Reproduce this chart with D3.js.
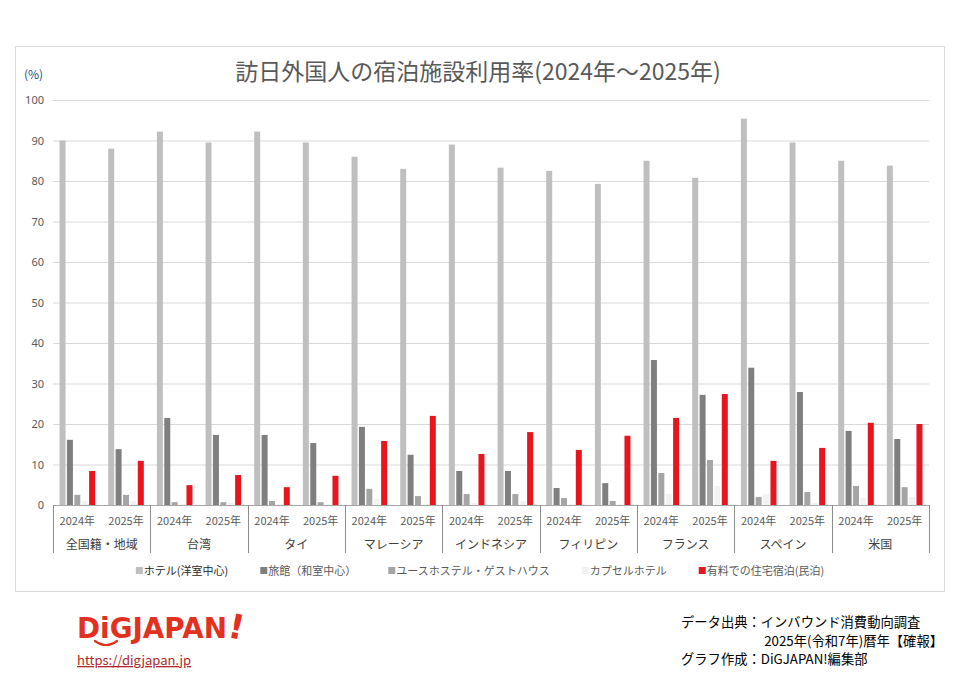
<!DOCTYPE html>
<html>
<head>
<meta charset="utf-8">
<title>訪日外国人の宿泊施設利用率</title>
<script src="https://d3js.org/d3.v7.js"></script>
<style>
    body { margin: 0; background: #fff; }
    svg text { font-family: "Noto Sans CJK JP", "Noto Sans", sans-serif; }
</style>
</head>
<body>
<svg id="chart" width="960" height="700"></svg>
<script>
    // Data
    var countries = ["全国籍・地域", "台湾", "タイ", "マレーシア", "インドネシア", "フィリピン", "フランス", "スペイン", "米国"];
    var years = ["2024年", "2025年"];
    var seriesNames = ["ホテル(洋室中心)", "旅館（和室中心）", "ユースホステル・ゲストハウス", "カプセルホテル", "有料での住宅宿泊(民泊)"];
    var seriesColors = ["#bfbfbf", "#7f7f7f", "#a5a5a5", "#f2f2f2", "#e8141e"];

    // values in order: country x year (2024, 2025)
    var hotel   = [90.0, 88.0, 92.2, 89.5, 92.2, 89.5, 86.0, 83.0, 89.0, 83.3, 82.5, 79.3, 85.0, 80.8, 95.4, 89.5, 85.0, 83.8];
    var ryokan  = [16.1, 13.8, 21.5, 17.3, 17.3, 15.3, 19.3, 12.4, 8.4, 8.4, 4.2, 5.4, 35.8, 27.2, 33.9, 27.9, 18.3, 16.3];
    var youth   = [2.5, 2.5, 0.7, 0.7, 1.0, 0.7, 4.0, 2.2, 2.7, 2.7, 1.7, 1.0, 7.9, 11.1, 2.0, 3.2, 4.7, 4.4];
    var capsule = [1.0, 1.0, 0.2, 0.5, 0.2, 0.2, 1.5, 0.2, 0.5, 1.0, 0.2, 0.2, 2.7, 4.7, 2.7, 0.5, 1.7, 2.0];
    var minpaku = [8.4, 10.9, 4.9, 7.4, 4.4, 7.2, 15.8, 22.0, 12.6, 18.0, 13.6, 17.1, 21.5, 27.4, 10.9, 14.1, 20.3, 20.0];

    var yTicks = [0, 10, 20, 30, 40, 50, 60, 70, 80, 90, 100];

    var allSeries = [hotel, ryokan, youth, capsule, minpaku];

    // flatten into records
    var records = [];
    countries.forEach(function (c, ci) {
        years.forEach(function (yr, yi) {
            seriesNames.forEach(function (s, si) {
                records.push({ country: c, year: yr, series: s, color: seriesColors[si], value: allSeries[si][ci * 2 + yi] });
            });
        });
    });

    var svg = d3.select("#chart");

    // Chart frame
    svg.append("rect")
        .attr("x", 15.5).attr("y", 46.5)
        .attr("width", 929).attr("height", 545)
        .attr("fill", "#fff")
        .attr("stroke", "#d9d9d9");

    // Plot area
    var plotLeft = 53, plotRight = 929, plotTop = 100, plotBottom = 505;
    var x0 = d3.scaleBand().domain(countries).range([plotLeft, plotRight]);
    var xYear = d3.scaleBand().domain(years).range([0, x0.bandwidth()]);
    var x1 = d3.scaleBand().domain(seriesNames).range([0, xYear.bandwidth()])
        .paddingInner(0.19).paddingOuter(0.885);
    var y = d3.scaleLinear().domain([0, 100]).range([plotBottom, plotTop]);

    // Gridlines + y labels
    var yAxis = d3.axisLeft(y).tickValues(yTicks).tickSize(-(plotRight - plotLeft)).tickPadding(9);
    var gy = svg.append("g").attr("transform", "translate(" + plotLeft + ",0)").call(yAxis);
    gy.select(".domain").remove();
    gy.selectAll(".tick line").attr("stroke", "#d9d9d9");
    gy.selectAll(".tick text")
        .attr("fill", "#595959")
        .style("font-size", "11px")
        .style("font-family", "'Noto Sans', sans-serif");

    // Title
    svg.append("text")
        .attr("x", 478).attr("y", 80)
        .attr("text-anchor", "middle")
        .attr("fill", "#595959")
        .style("font-size", "23px")
        .text("訪日外国人の宿泊施設利用率(2024年～2025年)");

    // Unit label
    svg.append("text")
        .attr("x", 24).attr("y", 79)
        .attr("fill", "#1f4e79")
        .style("font-size", "12px")
        .text("(%)");

    // Bars
    svg.append("g").selectAll("rect")
        .data(records)
        .enter()
        .append("rect")
        .attr("x", function (d) { return x0(d.country) + xYear(d.year) + x1(d.series); })
        .attr("y", function (d) { return y(d.value); })
        .attr("width", x1.bandwidth())
        .attr("height", function (d) { return y(0) - y(d.value); })
        .attr("fill", function (d) { return d.color; });

    // Baseline
    svg.append("line")
        .attr("x1", plotLeft).attr("x2", plotRight)
        .attr("y1", plotBottom + 0.5).attr("y2", plotBottom + 0.5)
        .attr("stroke", "#a6a6a6");

    // Category separators (multi-level axis)
    var bounds = countries.map(function (c) { return x0(c); }).concat([plotRight]);
    svg.append("g").selectAll("line")
        .data(bounds)
        .enter()
        .append("line")
        .attr("x1", function (d) { return Math.round(d) + 0.5; })
        .attr("x2", function (d) { return Math.round(d) + 0.5; })
        .attr("y1", plotBottom).attr("y2", 553)
        .attr("stroke", "#8c8c8c");

    // Year labels
    var yearLabels = [];
    countries.forEach(function (c) {
        years.forEach(function (yr) { yearLabels.push({ country: c, year: yr }); });
    });
    svg.append("g").selectAll("text")
        .data(yearLabels)
        .enter()
        .append("text")
        .attr("x", function (d) { return x0(d.country) + xYear(d.year) + xYear.bandwidth() / 2; })
        .attr("y", 525)
        .attr("text-anchor", "middle")
        .attr("fill", "#595959")
        .style("font-size", "11px")
        .text(function (d) { return d.year; });

    // Country labels
    svg.append("g").selectAll("text")
        .data(countries)
        .enter()
        .append("text")
        .attr("x", function (d) { return x0(d) + x0.bandwidth() / 2; })
        .attr("y", 549)
        .attr("text-anchor", "middle")
        .attr("fill", "#404040")
        .style("font-size", "12px")
        .text(function (d) { return d; });

    // Legend
    var legend = svg.append("g");
    var lx = 0;
    var legendGap = 32;
    seriesNames.forEach(function (s, i) {
        var item = legend.append("g").attr("transform", "translate(" + lx + ",0)");
        item.append("rect")
            .attr("x", 0).attr("y", -8)
            .attr("width", 7).attr("height", 7)
            .attr("fill", seriesColors[i]);
        var t = item.append("text")
            .attr("x", 8).attr("y", 0)
            .attr("fill", i === 0 ? "#262626" : "#595959")
            .style("font-size", "11px")
            .text(s);
        lx += 8 + t.node().getComputedTextLength() + legendGap;
    });
    var legendWidth = lx - legendGap;
    legend.attr("transform", "translate(" + (480 - legendWidth / 2) + ",575)");

    // Logo
    var logo = svg.append("g");
    logo.append("text")
        .attr("x", 77).attr("y", 638)
        .attr("fill", "#e2311f")
        .attr("textLength", 150)
        .attr("lengthAdjust", "spacingAndGlyphs")
        .style("font-family", "'DejaVu Sans', sans-serif")
        .style("font-weight", "bold")
        .style("font-size", "28px")
        .text("DiGJAPAN");
    logo.append("text")
        .attr("x", 229).attr("y", 638)
        .attr("fill", "#e2311f")
        .attr("transform", "rotate(12,234,625)")
        .style("font-family", "'DejaVu Sans', sans-serif")
        .style("font-weight", "bold")
        .style("font-size", "34px")
        .text("!");
    logo.append("path")
        .attr("d", "M95,641 Q106,649 117,641")
        .attr("fill", "none")
        .attr("stroke", "#e2311f")
        .attr("stroke-width", 2.2)
        .attr("stroke-linecap", "round");

    svg.append("text")
        .attr("x", 77).attr("y", 665)
        .attr("fill", "#b0262a")
        .attr("text-decoration", "underline")
        .style("font-size", "13px")
        .text("https://digjapan.jp");

    // Source notes
    svg.append("text")
        .attr("x", 681).attr("y", 627)
        .attr("fill", "#000")
        .style("font-size", "13.3px")
        .text("データ出典：インバウンド消費動向調査");
    svg.append("text")
        .attr("x", 943).attr("y", 646)
        .attr("text-anchor", "end")
        .attr("fill", "#000")
        .style("font-size", "13.3px")
        .text("2025年(令和7年)暦年【確報】");
    svg.append("text")
        .attr("x", 681).attr("y", 664)
        .attr("fill", "#000")
        .style("font-size", "13.3px")
        .text("グラフ作成：DiGJAPAN!編集部");
</script>
</body>
</html>
